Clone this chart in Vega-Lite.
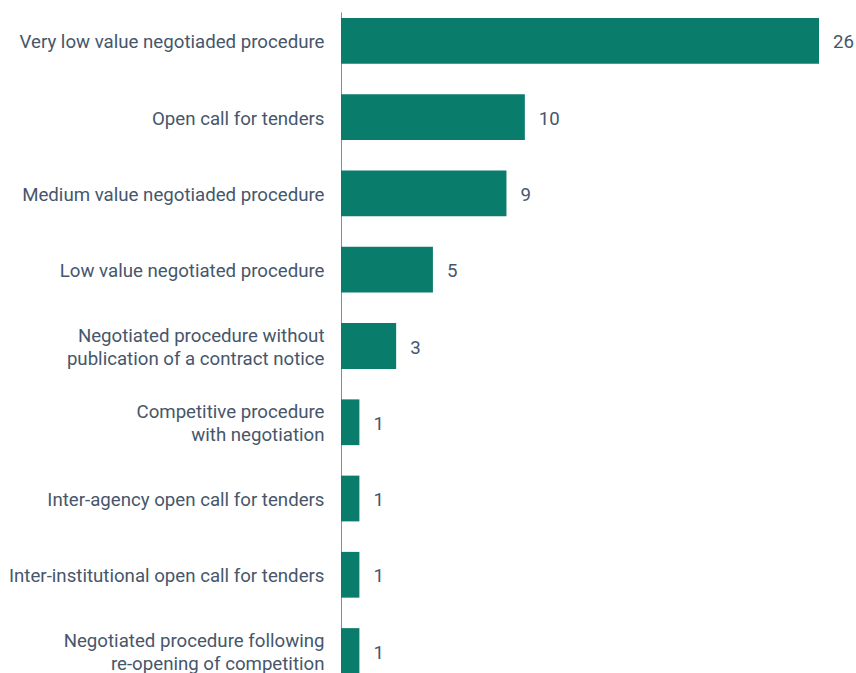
{
  "$schema": "https://vega.github.io/schema/vega-lite/v6.json",
  "autosize": {"type": "none"},
  "padding": {"left": 341, "top": 12, "right": 37, "bottom": 0},
  "width": 478,
  "height": 668,
  "background": "white",
  "config": {
    "view": {"stroke": null},
    "font": "Roboto",
    "axis": {"labelFont": "Roboto", "labelFontSize": 18.67, "labelColor": "#46566b"}
  },
  "data": {
    "values": [
      {"cat": "Very low value negotiaded procedure", "value": 26},
      {"cat": "Open call for tenders", "value": 10},
      {"cat": "Medium value negotiaded procedure", "value": 9},
      {"cat": "Low value negotiated procedure", "value": 5},
      {"cat": "Negotiated procedure without|publication of a contract notice", "value": 3},
      {"cat": "Competitive procedure|with negotiation", "value": 1},
      {"cat": "Inter-agency open call for tenders", "value": 1},
      {"cat": "Inter-institutional open call for tenders", "value": 1},
      {"cat": "Negotiated procedure following|re-opening of competition", "value": 1}
    ]
  },
  "encoding": {
    "y": {
      "field": "cat",
      "type": "nominal",
      "sort": null,
      "scale": {"paddingInner": 0.4, "paddingOuter": 0.08},
      "axis": {
        "title": null,
        "ticks": false,
        "labelPadding": 17,
        "labelLimit": 400,
        "labelLineHeight": 23,
        "labelExpr": "split(datum.label, '|')",
        "labelOffset": {"condition": {"test": "indexof(datum.label, '|') >= 0", "value": -10}, "value": 1.5},
        "domainColor": "#8c8c8c",
        "domainWidth": 1
      }
    },
    "x": {
      "field": "value",
      "type": "quantitative",
      "scale": {"domain": [0, 26], "nice": false},
      "axis": null
    }
  },
  "layer": [
    {"mark": {"type": "bar", "color": "#0a7c6c"}},
    {
      "mark": {"type": "text", "align": "left", "baseline": "middle", "dx": 14, "dy": 1.5, "fontSize": 18.67, "font": "Roboto", "color": "#46566b"},
      "encoding": {"text": {"field": "value", "type": "quantitative"}}
    }
  ]
}
